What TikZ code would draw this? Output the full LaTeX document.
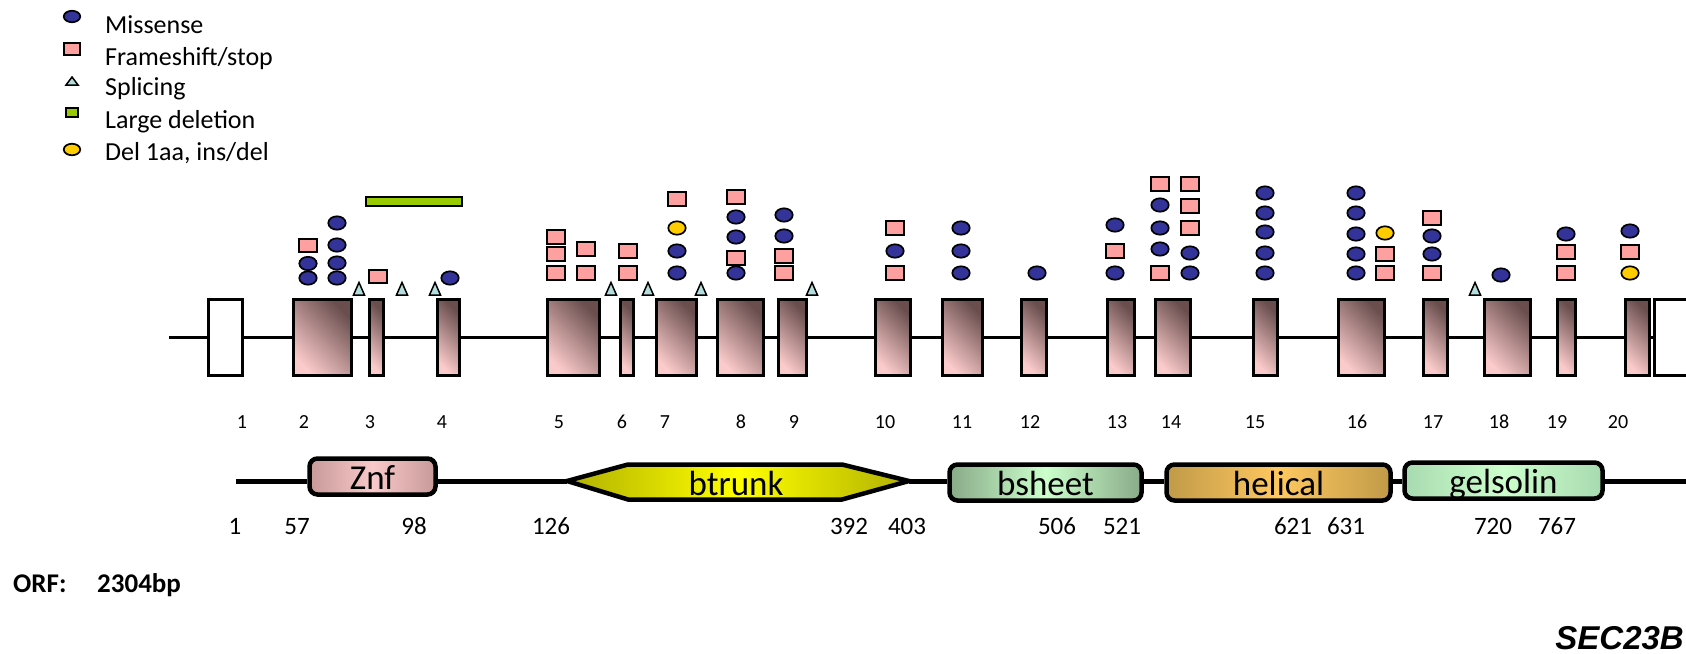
\documentclass[tikz,border=0pt]{standalone}
\usepackage{fontspec}
\setmainfont{Carlito}
\newfontfamily\arialfont{Liberation Sans}
\usetikzlibrary{shapes.geometric}

\definecolor{exdark}{HTML}{6A4E4E}
\definecolor{exlight}{HTML}{FBCACA}
\definecolor{misblue}{HTML}{333399}
\definecolor{fspink}{HTML}{FFA0A0}
\definecolor{splcyan}{HTML}{B4DEDE}
\definecolor{delgreen}{HTML}{99CC00}
\definecolor{indelyel}{HTML}{FFCC00}
\definecolor{znfedge}{HTML}{C89999}
\definecolor{znfmid}{HTML}{F9C9C9}
\definecolor{btedge}{HTML}{B0B000}
\definecolor{btmid}{HTML}{FFFF00}
\definecolor{bsedge}{HTML}{88AA88}
\definecolor{bsmid}{HTML}{CCFFCC}
\definecolor{heedge}{HTML}{C09A48}
\definecolor{hemid}{HTML}{FFC860}
\definecolor{geedge}{HTML}{A8DAB0}
\definecolor{gemid}{HTML}{CCFFCC}

\tikzset{
  exon/.style={draw, line width=3pt, minimum height=76pt, inner sep=0pt,
    top color=exdark, bottom color=exlight, shading angle=-45},
  utr/.style={draw, line width=3pt, fill=white, minimum height=76pt, inner sep=0pt},
  intron/.style={line width=2.4pt},
  mis/.style={ellipse, draw, line width=1.7pt, fill=misblue, minimum width=17.4pt,
    minimum height=13.4pt, inner sep=0pt},
  fs/.style={rectangle, draw, line width=1.7pt, fill=fspink, minimum width=17.4pt,
    minimum height=13.4pt, inner sep=0pt},
  indel/.style={mis, fill=indelyel},
  spltri/.pic={\draw[line width=1.5pt, fill=splcyan, line join=miter]
    (-5.5,6.5) -- (0,-6) -- (5.5,6.5) -- cycle;},
  legtri/.pic={\draw[line width=1.5pt, fill=splcyan, line join=miter]
    (-6,4.5) -- (0,-3.5) -- (6,4.5) -- cycle;},
  domline/.style={line width=5pt},
  dombox/.style={draw, line width=4.5pt, rounded corners=8pt, minimum height=36pt,
    inner sep=0pt, text height=25pt, text depth=0pt,
    font=\fontsize{35}{40}\selectfont},
  legtext/.style={anchor=base west, inner sep=0pt, font=\fontsize{26}{30}\selectfont},
  exnum/.style={anchor=base, inner sep=0pt, font=\fontsize{20}{24}\selectfont},
  posnum/.style={anchor=base, inner sep=0pt, font=\fontsize{25}{30}\selectfont},
  orf/.style={anchor=base west, inner sep=0pt, font=\fontsize{27}{32}\selectfont\bfseries},
}

\begin{document}
\begin{tikzpicture}[x=1pt,y=-1pt]
\path[use as bounding box] (0,0) rectangle (1686,653);
\clip (0,0) rectangle (1686,653);
\fill[white] (0,0) rectangle (1686,653);

% legend
\node[mis, minimum width=16.5pt, minimum height=11.5pt] (lmis) at (72,16.5) {};
\node[fs, minimum width=16.5pt, minimum height=12.5pt] (lfs) at (72,49) {};
\pic at (72,80.5) {legtri};
\node[rectangle, draw, line width=1.7pt, fill=delgreen, minimum width=11.5pt,
  minimum height=9.5pt, inner sep=0pt] (ldel) at (72,112.5) {};
\node[indel, minimum width=16.5pt, minimum height=11.5pt] (lindel) at (72,149.5) {};
\node[legtext] (tmis) at (105,33) {Missense};
\node[legtext] (tfs) at (105,65) {Frameshift/stop};
\node[legtext] (tspl) at (105,95) {Splicing};
\node[legtext] (tdel) at (105,128) {Large deletion};
\node[legtext] (tindel) at (105,160) {Del 1aa, ins/del};

% exons
\foreach \n/\a/\b in {2/292/353, 3/368/385, 4/436/461, 5/546/601, 6/619/635,
    7/655/698, 8/716/765, 9/777/808, 10/874/912, 11/941/984, 12/1020/1048,
    13/1106/1136, 14/1154/1192, 15/1252/1279, 16/1337/1386, 17/1422/1449,
    18/1483/1532, 19/1556/1577, 20/1624/1651}
  \node[exon, minimum width={(\b-\a-3)*1pt}] (e\n) at ({(\a+\b)/2},337.5) {};
\node[utr, minimum width=34pt] (e1) at (225.5,337.5) {};
\node[utr, minimum width=47pt] (e21) at (1678,337.5) {};

% introns
\coordinate (istart) at (169,337.5);
\draw[intron] (istart) -- (e1.west);
\foreach \a [evaluate=\a as \b using int(\a+1)] in {1,...,20}
  \draw[intron] (e\a.east) -- (e\b.west);

% large deletion
\node[rectangle, draw, line width=1.7pt, fill=delgreen, minimum width=96pt,
  minimum height=9.5pt, inner sep=0pt] (bigdel) at (414,201.5) {};

% splice-site mutations
\foreach \x in {359,402,435,611,648,701,812,1475}
  \pic at (\x,288.5) {spltri};

% point mutations
\foreach \x/\y/\t [count=\k] in {
  308/245.5/fs, 308/263.5/mis, 308/278/mis,
  337/223/mis, 337/245/mis, 337/263/mis, 337/278/mis,
  378/276.5/fs,
  450/278/mis,
  556/237/fs, 556/254/fs, 556/273/fs,
  586/249/fs, 586/273/fs,
  628/251/fs, 628/273/fs,
  677/199/fs, 677/228/indel, 677/251/mis, 677/273/mis,
  736/197/fs, 736/217/mis, 736/237/mis, 736/258/fs, 736/273/mis,
  784/215/mis, 784/236/mis, 784/256/fs, 784/273/fs,
  895/228/fs, 895/251/mis, 895/273/fs,
  961/228/mis, 961/251/mis, 961/273/mis,
  1037/273/mis,
  1115/225/mis, 1115/251/fs, 1115/273/mis,
  1160/184/fs, 1160/205/mis, 1160/228/mis, 1160/249/mis, 1160/273/fs,
  1190/184/fs, 1190/206/fs, 1190/228/fs, 1190/253/mis, 1190/273/mis,
  1265/193/mis, 1265/213/mis, 1265/232/mis, 1265/253/mis, 1265/273/mis,
  1356/193/mis, 1356/213/mis, 1356/234/mis, 1356/254/mis, 1356/273/mis,
  1385/233/indel, 1385/254/fs, 1385/273/fs,
  1432/218/fs, 1432/236/mis, 1432/254/mis, 1432/273/fs,
  1501/275/mis,
  1566/234/mis, 1566/252/fs, 1566/273/fs,
  1630/231/mis, 1630/252/fs, 1630/273/indel}
  \node[\t] (mut\k) at (\x,\y) {};

% exon numbers
\foreach \n/\x in {1/242, 2/304, 3/370, 4/442, 5/559, 6/622, 7/665, 8/741,
    9/794, 10/885, 11/962, 12/1030, 13/1117, 14/1171, 15/1255, 16/1357,
    17/1433, 18/1499, 19/1557, 20/1618}
  \node[exnum] (en\n) at (\x,428) {\n};

% protein domains
\coordinate (dstart) at (236,481);
\coordinate (dend) at (1690,481);
\node[dombox, left color=znfedge, right color=znfedge, middle color=znfmid,
  minimum width=126pt] (znf) at (372.5,476.5) {Znf};
\node[dombox, left color=bsedge, right color=bsedge, middle color=bsmid,
  minimum width=192pt] (bsheet) at (1045.5,482.5) {bsheet};
\node[dombox, left color=heedge, right color=heedge, middle color=hemid,
  minimum width=224pt] (helical) at (1278.5,482.5) {helical};
\node[dombox, left color=geedge, right color=geedge, middle color=gemid,
  minimum width=198pt] (gelsolin) at (1503.5,480.5) {gelsolin};
\coordinate (btl) at (567,481);
\coordinate (btr) at (909,481);
\draw[line width=4.5pt, line join=miter, left color=btedge, right color=btedge,
  middle color=btmid] (btl) -- (628,464.5) -- (842,464.5) -- (btr)
  -- (842,499.5) -- (628,499.5) -- cycle;
\node[inner sep=0pt, text height=25pt, text depth=0pt,
  font=\fontsize{35}{40}\selectfont] (btrunk) at (736,482.5) {btrunk};
\draw[domline] (dstart) -- (dstart -| znf.west);
\draw[domline] (znf.east |- dstart) -- (btl);
\draw[domline] (btr) -- (bsheet.west |- dstart);
\draw[domline] (bsheet.east |- dstart) -- (helical.west |- dstart);
\draw[domline] (helical.east |- dstart) -- (gelsolin.west |- dstart);
\draw[domline] (gelsolin.east |- dstart) -- (dend);

% residue positions
\foreach \p/\x [count=\k] in {1/235, 57/297, 98/414, 126/551, 392/849, 403/907,
    506/1057, 521/1122, 621/1293, 631/1346, 720/1493, 767/1557}
  \node[posnum] (pos\k) at (\x,534) {\p};

% footer
\node[orf] (orflab) at (13,592) {ORF:};
\node[orf] (orflen) at (97,592) {2304bp};
\node[anchor=base east, inner sep=0pt,
  font=\arialfont\fontsize{33}{38}\selectfont\bfseries\itshape] (gene) at (1684,649) {SEC23B};
\end{tikzpicture}
\end{document}
